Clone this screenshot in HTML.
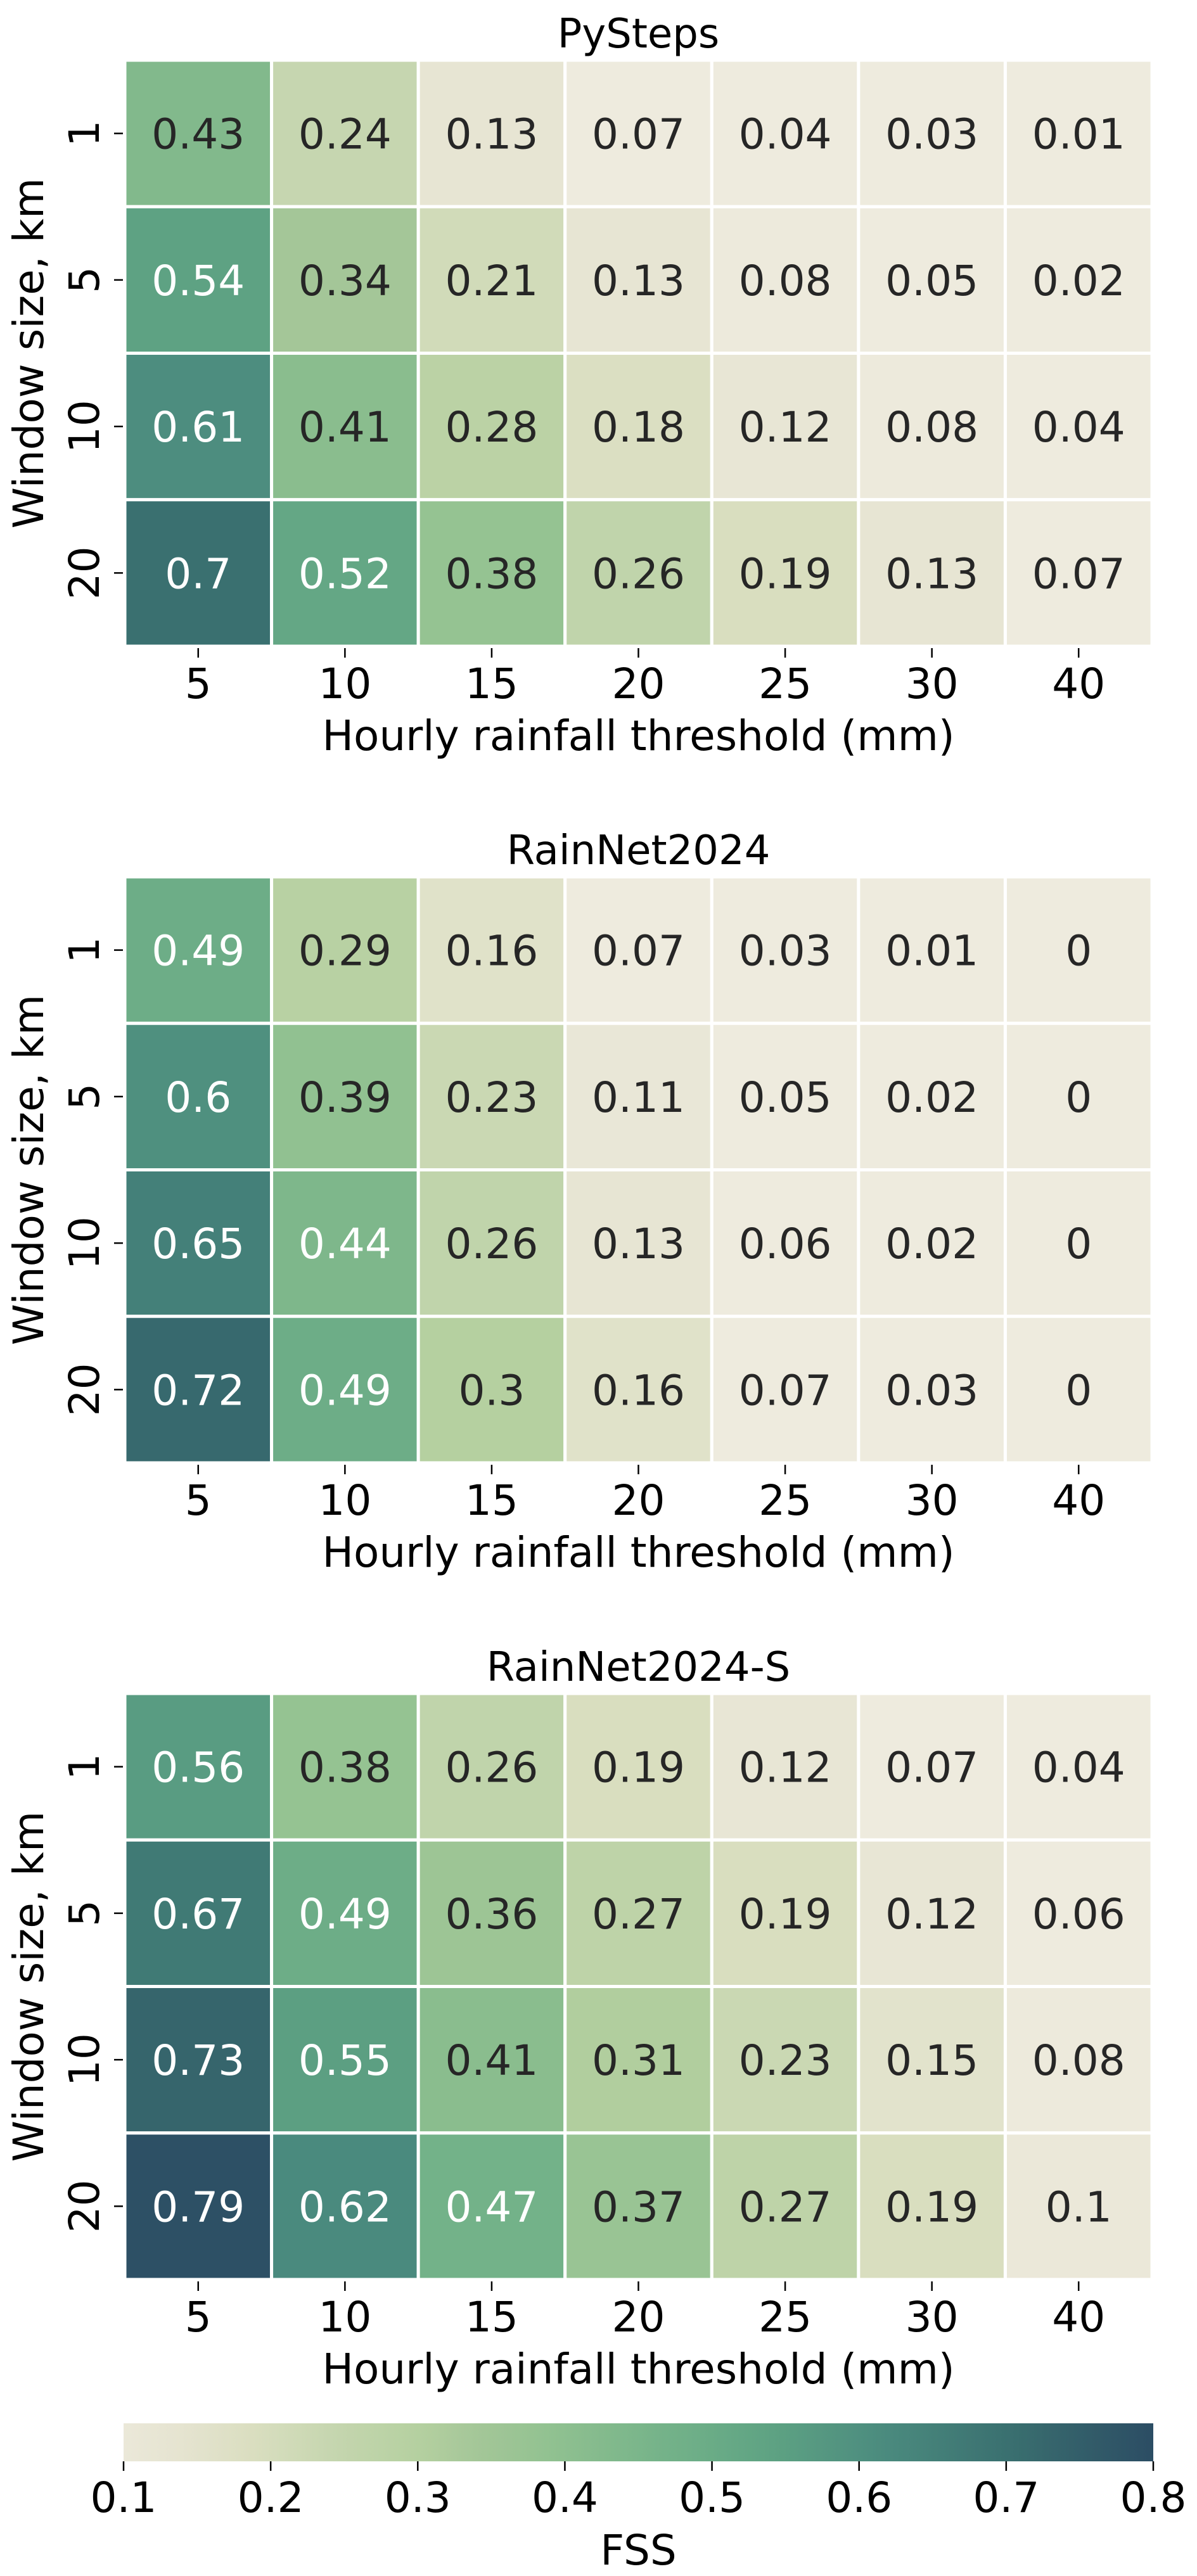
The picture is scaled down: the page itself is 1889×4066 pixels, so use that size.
<!DOCTYPE html>
<html><head><meta charset="utf-8"><style>
html,body{margin:0;padding:0;background:#fff;}
svg{display:block;font-family:"DejaVu Sans","Liberation Sans",sans-serif;}
</style></head><body>
<svg id="chart" width="1889" height="4066" viewBox="0 0 1889 4066" xmlns="http://www.w3.org/2000/svg">
<defs><linearGradient id="cbgrad" x1="0" x2="1" y1="0" y2="0"></linearGradient></defs>
</svg>
<script>
const categories = ["5","10","15","20","25","30","40"];
const windowSizes = ["1","5","10","20"];
const panelTitles = ["PySteps","RainNet2024","RainNet2024-S"];
const pystepsValues = [
 [0.43,0.24,0.13,0.07,0.04,0.03,0.01],
 [0.54,0.34,0.21,0.13,0.08,0.05,0.02],
 [0.61,0.41,0.28,0.18,0.12,0.08,0.04],
 [0.7,0.52,0.38,0.26,0.19,0.13,0.07]];
const rainnetValues = [
 [0.49,0.29,0.16,0.07,0.03,0.01,0],
 [0.6,0.39,0.23,0.11,0.05,0.02,0],
 [0.65,0.44,0.26,0.13,0.06,0.02,0],
 [0.72,0.49,0.3,0.16,0.07,0.03,0]];
const rainnetSValues = [
 [0.56,0.38,0.26,0.19,0.12,0.07,0.04],
 [0.67,0.49,0.36,0.27,0.19,0.12,0.06],
 [0.73,0.55,0.41,0.31,0.23,0.15,0.08],
 [0.79,0.62,0.47,0.37,0.27,0.19,0.1]];
const colorbarTicks = [0.1,0.2,0.3,0.4,0.5,0.6,0.7,0.8];

const NS="http://www.w3.org/2000/svg";
const svg=document.getElementById('chart');
const stops=[[0.07,"#EEEBDE"],[0.13,"#E7E5D3"],[0.19,"#D9DEBF"],[0.24,"#C6D6B0"],[0.3,"#B5D0A0"],[0.34,"#A4C698"],[0.38,"#95C392"],[0.43,"#82B98C"],[0.47,"#73B289"],[0.54,"#5EA283"],[0.62,"#4A8A7E"],[0.7,"#3A7070"],[0.79,"#2D5065"],[0.8,"#2C4D64"]];
function hex(h){return [1,3,5].map(i=>parseInt(h.substr(i,2),16));}
function cmap(v){
 if(v<=stops[0][0])return stops[0][1];
 for(let i=1;i<stops.length;i++){
  if(v<=stops[i][0]){const a=hex(stops[i-1][1]),b=hex(stops[i][1]);const t=(v-stops[i-1][0])/(stops[i][0]-stops[i-1][0]);
   return 'rgb('+a.map((c,k)=>Math.round(c+(b[k]-c)*t)).join(',')+')';}
 }
 return stops[stops.length-1][1];
}
function el(tag,attrs,parent){const e=document.createElementNS(NS,tag);for(const k in attrs)e.setAttribute(k,attrs[k]);(parent||svg).appendChild(e);return e;}

const X0=197,X1=1818,H=925;
const tops=[95,1384,2673];
const cw=(X1-X0)/categories.length, ch=H/windowSizes.length;
const xPos=i=>X0+i*cw, yPos=(top,j)=>top+j*ch;
const allValues=[pystepsValues,rainnetValues,rainnetSValues];

allValues.forEach((vals,p)=>{
 const top=tops[p];
 const g=el('g',{});
 
 
 const t=el('text',{x:(X0+X1)/2,y:top-20,'text-anchor':'middle','font-size':64,fill:'#000'},g);
 t.textContent=panelTitles[p];
 
 
 vals.forEach((row,j)=>row.forEach((v,i)=>{
  const r=el('rect',{x:xPos(i),y:yPos(top,j),width:cw,height:ch,fill:cmap(v),stroke:'#fff','stroke-width':5},g);
  
  
  const tx=el('text',{x:xPos(i)+cw/2,y:yPos(top,j)+ch/2+24,'text-anchor':'middle','font-size':66,fill:v>=0.44?'#ffffff':'#262626'},g);
  tx.textContent=String(v);
  
  
 }));
 windowSizes.forEach((w,j)=>{
  const cy=yPos(top,j)+ch/2;
  el('line',{x1:180,x2:194,y1:cy,y2:cy,stroke:'#000','stroke-width':2.5},g);
  const tl=el('text',{x:0,y:0,transform:'translate(156,'+cy+') rotate(-90)','text-anchor':'middle','font-size':66,fill:'#000'},g);
  tl.textContent=w;
  
  
 });
 categories.forEach((c,i)=>{
  const cx=xPos(i)+cw/2;
  el('line',{x1:cx,x2:cx,y1:top+H+3,y2:top+H+18,stroke:'#000','stroke-width':2.5},g);
  const tl=el('text',{x:cx,y:top+H+82,'text-anchor':'middle','font-size':66,fill:'#000'},g);
  tl.textContent=c;
  
  
 });
 const xl=el('text',{x:(X0+X1)/2,y:top+H+164,'text-anchor':'middle','font-size':66,fill:'#000'},g);
 xl.textContent='Hourly rainfall threshold (mm)';
 
 
 const yl=el('text',{x:0,y:0,transform:'translate(68,'+(top+H/2)+') rotate(-90)','text-anchor':'middle','font-size':66,fill:'#000'},g);
 yl.textContent='Window size, km';
 
 
});

// colorbar
const grad=document.getElementById('cbgrad');
for(let k=0;k<=40;k++){const v=0.1+0.7*k/40;el('stop',{offset:(k/40*100)+'%','stop-color':cmap(v)},grad);}
const CB0=195,CB1=1820,CBY=3825,CBH=60;
const cbx=v=>CB0+(v-0.1)/0.7*(CB1-CB0);
const cb=el('rect',{x:CB0,y:CBY,width:CB1-CB0,height:CBH,fill:'url(#cbgrad)'});


colorbarTicks.forEach(v=>{
 el('line',{x1:cbx(v),x2:cbx(v),y1:CBY+CBH,y2:CBY+CBH+15,stroke:'#000','stroke-width':2.5});
 const tl=el('text',{x:cbx(v),y:3965,'text-anchor':'middle','font-size':66,fill:'#000'});
 tl.textContent=v.toFixed(1);
 
 
});
const fl=el('text',{x:(CB0+CB1)/2,y:4048,'text-anchor':'middle','font-size':66,fill:'#000'});
fl.textContent='FSS';


</script>
</body></html>
